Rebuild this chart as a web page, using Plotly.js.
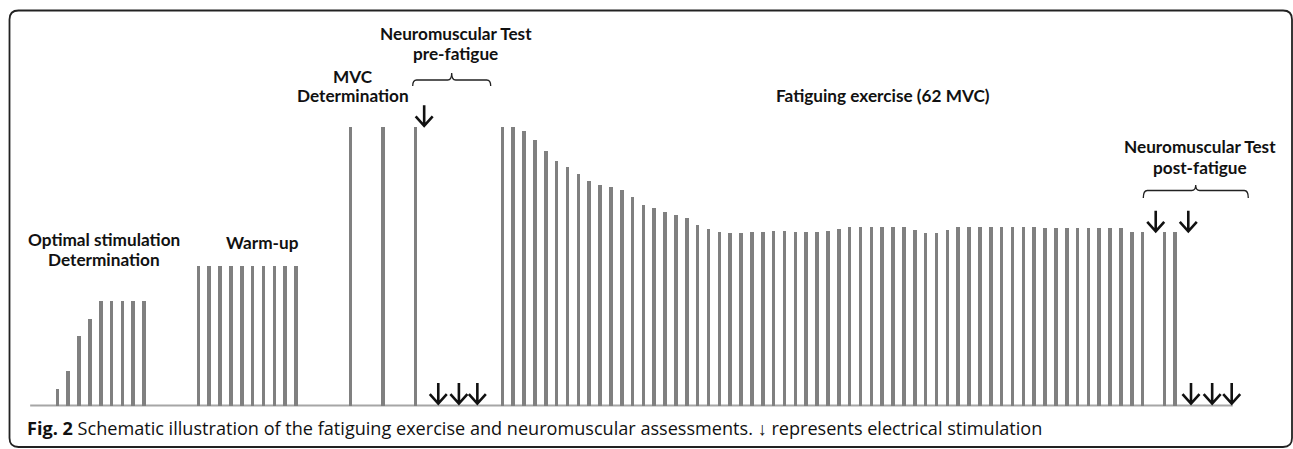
<!DOCTYPE html>
<html><head><meta charset="utf-8">
<script src="https://cdn.plot.ly/plotly-3.0.1.min.js"></script>
<style>html,body{margin:0;padding:0;background:#fff;overflow:hidden}#chart{width:1293px;height:449px}</style>
</head><body><div id="chart"></div>
<script>
// ---- data: contraction slot index and force (% MVC) ----
const slotsOptimal = [0, 1, 2, 3, 4, 5, 6, 7, 8];
const forceOptimal = [6.0, 12.3, 24.8, 31.2, 37.4, 37.4, 37.4, 37.4, 37.4];

const slotsWarmup = [13, 14, 15, 16, 17, 18, 19, 20, 21, 22];
const forceWarmup = [50, 50, 50, 50, 50, 50, 50, 50, 50, 50];

const slotsMVC = [27, 30, 33];
const forceMVC = [100, 100, 100];

const slotsFatigue = [41, 42, 43, 44, 45, 46, 47, 48, 49, 50,
  51, 52, 53, 54, 55, 56, 57, 58, 59, 60,
  61, 62, 63, 64, 65, 66, 67, 68, 69, 70,
  71, 72, 73, 74, 75, 76, 77, 78, 79, 80,
  81, 82, 83, 84, 85, 86, 87, 88, 89, 90,
  91, 92, 93, 94, 95, 96, 97, 98, 99, 100];
const forceFatigue = [100, 100, 98.5, 95.5, 91.6, 88.0, 85.6, 83.3, 80.8, 79.3,
  78.4, 77.3, 75.1, 72.2, 71.0, 69.7, 68.6, 67.3, 65.0, 63.3,
  62.5, 62.1, 62.1, 62.3, 62.5, 62.7, 62.6, 62.5, 62.4, 62.5,
  62.8, 63.5, 64.0, 64.0, 64.0, 64.0, 64.0, 64.0, 63.1, 62.1,
  61.9, 62.9, 64.0, 64.0, 64.0, 64.0, 64.0, 64.0, 64.0, 64.0,
  63.9, 63.9, 63.9, 63.9, 63.9, 63.9, 63.9, 63.9, 62.3, 62.3];

const slotsPost = [102, 103];
const forcePost = [62.3, 62.3];

// electrical stimulations (arrows)
const stimTopSlots = [33.8, 101.2, 104.2];
const stimTopLevels = [100.3, 62.4, 62.4];
const stimBaseSlots = [35.1, 37.0, 38.7, 104.45, 106.4, 108.2];

const phaseLabels = ['Optimal stimulation', 'Determination', 'Warm-up', 'MVC', 'Determination',
  'Neuromuscular Test', 'pre-fatigue', 'Fatiguing exercise (62 MVC)', 'Neuromuscular Test', 'post-fatigue'];
const captionBold = 'Fig. 2';
const captionText = 'Schematic illustration of the fatiguing exercise and neuromuscular assessments. \u2193 represents electrical stimulation';

// ---- layout helpers ----
const W = 1293, H = 449;
const px = x => x / W, py = y => 1 - y / H;
const barColor = '#808080';
function barTrace(x, y, name) {
  return {type: 'bar', x: x, y: y, name: name, width: 0.33,
    marker: {color: barColor, line: {width: 0}}, hoverinfo: 'x+y'};
}
const data = [
  barTrace(slotsOptimal, forceOptimal, 'Optimal stimulation'),
  barTrace(slotsWarmup, forceWarmup, 'Warm-up'),
  barTrace(slotsMVC, forceMVC, 'MVC'),
  barTrace(slotsFatigue, forceFatigue, 'Fatiguing exercise'),
  barTrace(slotsPost, forcePost, 'Post-fatigue')
];

const labelFont = {family: 'Lato, "Open Sans", sans-serif', size: 17.2, color: '#111', weight: 700};
const labelPos = [[103.5, 239], [103.8, 259], [262.7, 242], [352.5, 76], [352.8, 95],
  [456, 33], [455, 54], [883, 95], [1200, 146], [1200, 167]];
const annotations = phaseLabels.map((t, i) => ({
  text: t, xref: 'paper', yref: 'paper', x: px(labelPos[i][0]), y: py(labelPos[i][1]),
  xanchor: 'center', yanchor: 'middle', showarrow: false, font: labelFont
}));
annotations.push({
  text: '<b>' + captionBold + '</b> ' + captionText, xref: 'paper', yref: 'paper',
  x: px(25), y: py(428), xanchor: 'left', yanchor: 'middle', showarrow: false,
  font: {family: '"Open Sans", sans-serif', size: 18.1, color: '#111'}
});

function brace(xl, xc, xr, yTip, yH, yEnd) {
  const P = (x, y) => px(x).toFixed(5) + ',' + py(y).toFixed(5);
  return 'M' + P(xl, yEnd) + ' Q' + P(xl, yH) + ' ' + P(xl + 4, yH) +
    ' L' + P(xc - 4, yH) + ' Q' + P(xc, yH) + ' ' + P(xc, yTip) +
    ' Q' + P(xc, yH) + ' ' + P(xc + 4, yH) +
    ' L' + P(xr - 4, yH) + ' Q' + P(xr, yH) + ' ' + P(xr, yEnd);
}
function roundRect(x0, y0, x1, y1, r) {
  const P = (x, y) => px(x).toFixed(5) + ',' + py(y).toFixed(5);
  return 'M' + P(x0 + r, y0) + ' L' + P(x1 - r, y0) + ' Q' + P(x1, y0) + ' ' + P(x1, y0 + r) +
    ' L' + P(x1, y1 - r) + ' Q' + P(x1, y1) + ' ' + P(x1 - r, y1) +
    ' L' + P(x0 + r, y1) + ' Q' + P(x0, y1) + ' ' + P(x0, y1 - r) +
    ' L' + P(x0, y0 + r) + ' Q' + P(x0, y0) + ' ' + P(x0 + r, y0) + ' Z';
}
const arrowPath = 'M0,21 L0,1 M-8.5,10 L0,0.5 L8.5,10';
function arrow(s, lvl) {
  return {type: 'path', xref: 'x', yref: 'y', xsizemode: 'pixel', ysizemode: 'pixel',
    xanchor: s, yanchor: lvl, path: arrowPath, line: {color: '#111', width: 2.6}};
}
const shapes = [
  {type: 'line', xref: 'x', yref: 'y', x0: -2.5, x1: 108.3, y0: 0, y1: 0,
    line: {color: '#a6a6a6', width: 2}, layer: 'below'},
  {type: 'path', xref: 'paper', yref: 'paper', path: brace(412.7, 451.7, 490.7, 73, 80, 86),
    line: {color: '#222', width: 1.3}},
  {type: 'path', xref: 'paper', yref: 'paper', path: brace(1143.3, 1195.7, 1248.3, 185, 190.5, 198),
    line: {color: '#222', width: 1.3}},
  {type: 'path', xref: 'paper', yref: 'paper', path: roundRect(9.5, 10.5, 1292, 447, 9),
    line: {color: '#222', width: 1.8}}
];
stimTopSlots.forEach((s, i) => shapes.push(arrow(s, stimTopLevels[i])));
stimBaseSlots.forEach(s => shapes.push(arrow(s, 0.5)));

const xPerSlot = 10.854, xZero = 57.3, yPerUnit = 2.783, yZero = 405.5;
const layout = {
  width: W, height: H, autosize: false,
  margin: {l: 0, r: 0, t: 0, b: 0, pad: 0},
  paper_bgcolor: '#fff', plot_bgcolor: '#fff', showlegend: false,
  xaxis: {visible: false, range: [-xZero / xPerSlot, (W - xZero) / xPerSlot], fixedrange: true},
  yaxis: {visible: false, range: [-(H - yZero) / yPerUnit, yZero / yPerUnit], fixedrange: true},
  bargap: 0, barmode: 'overlay',
  annotations: annotations, shapes: shapes
};
Plotly.newPlot('chart', data, layout, {displayModeBar: false, staticPlot: true});
</script></body></html>
